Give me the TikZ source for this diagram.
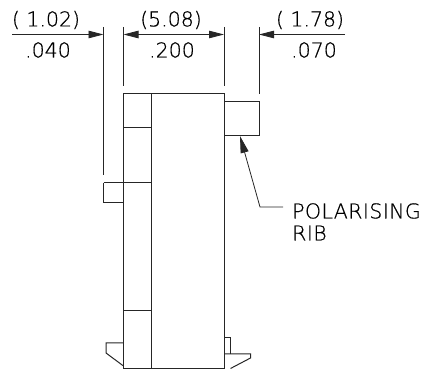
\documentclass[tikz,border=0pt]{standalone}
\usepackage{fontspec}
\setmainfont{DejaVu Sans ExtraLight}[FakeBold=0.5]
\newfontfamily\labelfont{DejaVu Sans ExtraLight}[FakeBold=0.5,LetterSpace=2]
\usetikzlibrary{arrows.meta}
\tikzset{
  x=1pt,y=-1pt,
  part/.style={line width=1pt,black!85},
  thinline/.style={line width=0.8pt,black!85},
  tipdim/.tip={Triangle[length=15pt,width=7.5pt]},
  dimarrow/.style={thinline,-tipdim},
  dimtext/.style={inner sep=0pt,font=\fontsize{20.5}{20.5}\selectfont,text=black,anchor=center},
  labeltext/.style={inner sep=0pt,font=\labelfont\fontsize{20.5}{20.5}\selectfont,text=black,anchor=west}
}
\begin{document}
\begin{tikzpicture}
\useasboundingbox (0,0) rectangle (424,371);
% body
\draw[part] (123.5,94) rectangle (224,368.5);
\draw[part] (151,94) -- (151,368.5);
\draw[part] (123.5,128) -- (151,128);
\draw[part] (103.5,183) -- (151,183);
\draw[part] (123.5,311) -- (151,311);
\draw[part] (103.5,183) -- (103.5,203) -- (123.5,203);
\draw[part] (224,102) -- (259,102) -- (259,136) -- (224,136);
\draw[part] (123.5,343) -- (106,343) -- (106,353) -- (123.5,366);
\draw[part] (224,354) -- (250.5,354) -- (250.5,358) -- (230.5,368.5);
\draw[part] (224,337.5) -- (230.5,337.5) -- (230.5,354);
% extension lines
\coordinate (e1a) at (103.5,27); \coordinate (e1b) at (103.5,175);
\coordinate (e2a) at (123.5,27); \coordinate (e2b) at (123.5,86);
\coordinate (e3a) at (224,27);   \coordinate (e3b) at (224,86);
\coordinate (e4a) at (259,27);   \coordinate (e4b) at (259,94);
\draw[thinline] (e1a) -- (e1b);
\draw[thinline] (e2a) -- (e2b);
\draw[thinline] (e3a) -- (e3b);
\draw[thinline] (e4a) -- (e4b);
% dimension lines
\coordinate (d1s) at (12,34.5);  \coordinate (d1e) at (103.5,34.5);
\coordinate (d2s) at (123.5,34.5); \coordinate (d2e) at (224,34.5);
\coordinate (d4s) at (345,34.5); \coordinate (d4e) at (259,34.5);
\draw[dimarrow] (d1s) -- (d1e);
\draw[thinline,tipdim-tipdim] (d2s) -- (d2e);
\draw[dimarrow] (d4s) -- (d4e);
% leader
\coordinate (l1) at (240,136); \coordinate (l2) at (260,207); \coordinate (l3) at (283,207);
\draw[thinline,{Triangle[length=17pt,width=8pt]}-] (l1) -- (l2) -- (l3);
% texts
\node[dimtext] (t1a) at (46,20) {( 1.02)};
\node[dimtext] (t1b) at (48,50) {.040};
\node[dimtext] (t2a) at (171,20) {(5.08)};
\node[dimtext] (t2b) at (172,50) {.200};
\node[dimtext] (t3a) at (310,20) {( 1.78)};
\node[dimtext] (t3b) at (314,50) {.070};
\node[labeltext] (t4) at (292,211) {POLARISING};
\node[labeltext] (t5) at (292,233) {RIB};
\end{tikzpicture}
\end{document}
